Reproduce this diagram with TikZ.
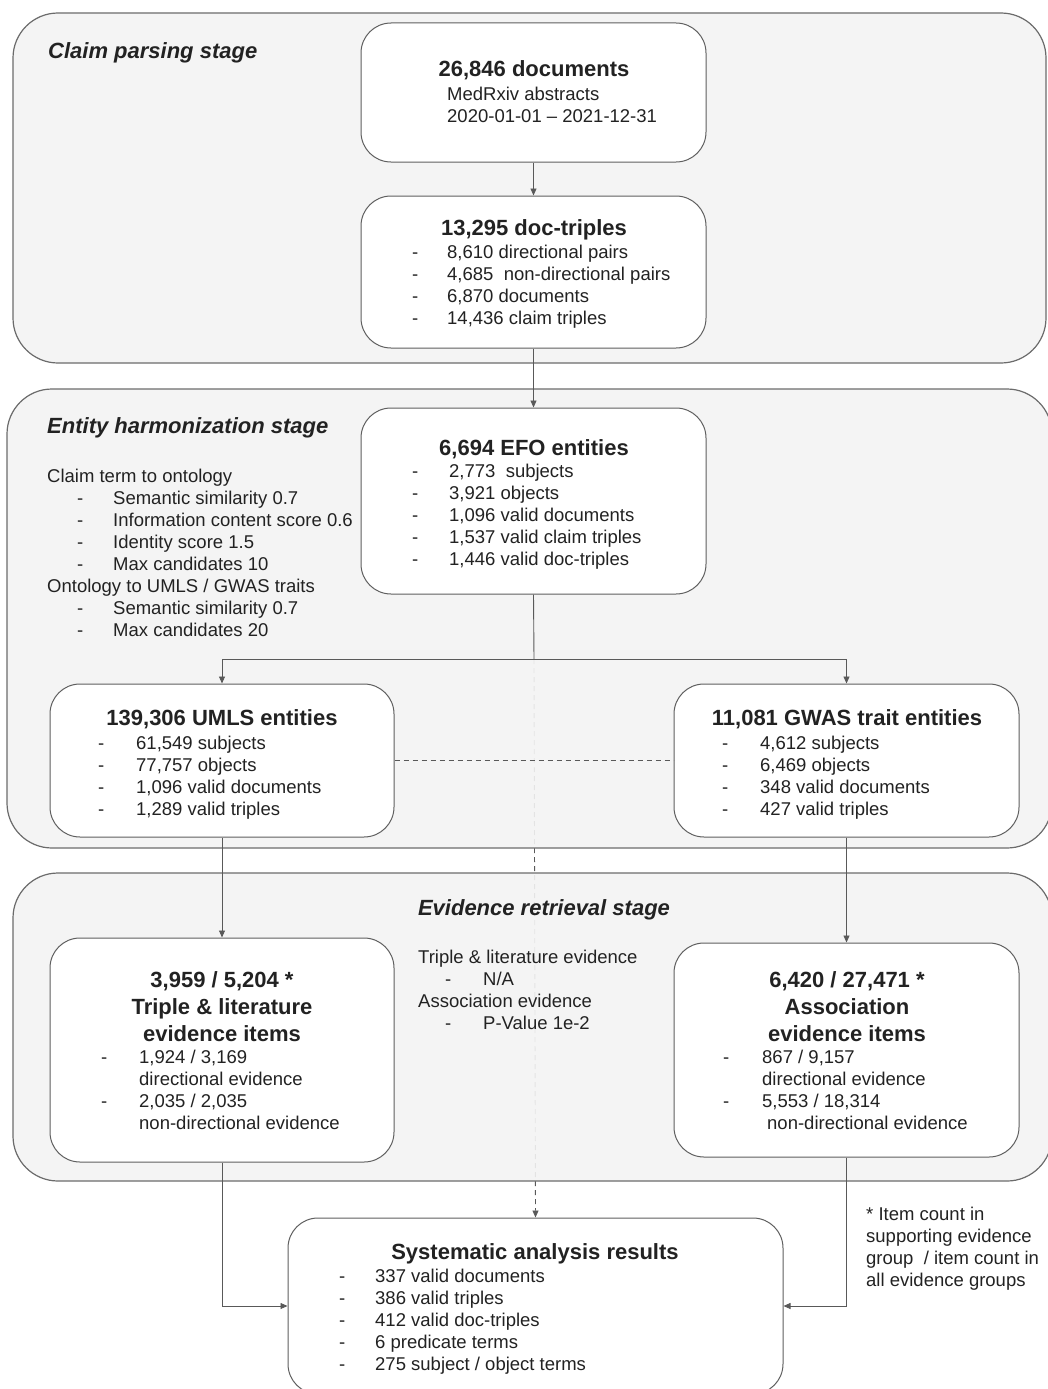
\documentclass[tikz,border=0pt]{standalone}
\usepackage{fontspec}
\setmainfont{Liberation Sans}
\usetikzlibrary{arrows.meta}
\definecolor{stagefill}{HTML}{F3F3F3}
\definecolor{stageline}{HTML}{6B6B6B}
\definecolor{boxline}{HTML}{5F5F5F}
\definecolor{ink}{HTML}{222222}
\definecolor{conncol}{HTML}{595959}
\newcommand\itm[2][37pt]{\makebox[#1][l]{-}#2}
\newcommand\rows[1]{\begin{tabular}[t]{@{}l@{}}#1\end{tabular}}
\newcommand\crows[1]{\begin{tabular}[t]{@{}c@{}}#1\end{tabular}}
\pgfdeclarelayer{back}
\pgfdeclarelayer{stages}
\pgfsetlayers{back,stages,main}
\begin{document}
\begin{tikzpicture}[x=1pt,y=-1pt,
  stage/.style={draw=stageline, line width=1.2pt, fill=stagefill, fill opacity=0.9, rounded corners=45pt},
  box/.style={draw=boxline, line width=1pt, fill=white, rounded corners=30pt, inner sep=0pt, minimum width=345pt},
  body/.style={font=\fontsize{18.5}{22}\selectfont, text=ink, inner sep=0pt, anchor=base west},
  ttl/.style={font=\fontsize{22}{27}\selectfont\bfseries, text=ink, inner sep=0pt, anchor=base},
  stt/.style={font=\fontsize{22}{25}\selectfont\bfseries\itshape, text=ink, inner sep=0pt},
  conn/.style={draw=conncol, line width=0.9pt},
  arr/.style={conn, -{Triangle[length=7pt,width=6pt]}},
  dsh/.style={conn, dash pattern=on 5pt off 4pt}
]
\useasboundingbox (0,0) rectangle (1047,1389);

% stage backgrounds
\begin{pgfonlayer}{stages}
\path[stage] (13,13) rectangle (1046,363);
\path[stage] (7,389) rectangle (1052,848);
\path[stage] (13,873) rectangle (1052,1181);
\end{pgfonlayer}

% stage titles
\node[stt, anchor=base west] (s1t) at (48,59) {Claim parsing stage};
\node[stt, anchor=base west] (s2t) at (47,433) {Entity harmonization stage};
\node[stt, anchor=base] (s3t) at (544,915) {Evidence retrieval stage};

% boxes
\node[box, minimum height=139pt] (docs) at (533.5,92.5) {};
\node[box, minimum height=152pt] (dtrip) at (533.5,272) {};
\node[box, minimum height=186pt] (efo) at (533.5,501) {};
\node[box, minimum width=344pt, minimum height=153pt] (umls) at (222,760.5) {};
\node[box, minimum height=153pt] (gwas) at (846.5,760.5) {};
\node[box, minimum width=344pt, minimum height=224pt] (tri) at (222,1050) {};
\node[box, minimum height=214pt] (assoc) at (846.5,1050) {};
\node[box, minimum width=495pt, minimum height=176pt] (res) at (535.5,1306) {};

% box 1
\node[ttl] (docsT) at (534,77) {26,846 documents};
\node[body] (docsL) at (447,100.7) {\rows{MedRxiv abstracts\\2020-01-01 – 2021-12-31}};
% box 2
\node[ttl] (dtripT) at (534,235) {13,295 doc-triples};
\node[body] (dtripL) at (412,258.5) {\rows{\itm[35pt]{8,610 directional pairs}\\\itm[35pt]{4,685 \ non-directional pairs}\\\itm[35pt]{6,870 documents}\\\itm[35pt]{14,436 claim triples}}};
% EFO
\node[ttl] (efoT) at (534,455) {6,694 EFO entities};
\node[body] (efoL) at (412,477) {\rows{\itm{2,773 \ subjects}\\\itm{3,921 objects}\\\itm{1,096 valid documents}\\\itm{1,537 valid claim triples}\\\itm{1,446 valid doc-triples}}};
% parameters
\node[body] (params) at (47,482) {\rows{Claim term to ontology\\\hspace*{30pt}\itm[36pt]{Semantic similarity 0.7}\\\hspace*{30pt}\itm[36pt]{Information content score 0.6}\\\hspace*{30pt}\itm[36pt]{Identity score 1.5}\\\hspace*{30pt}\itm[36pt]{Max candidates 10}\\Ontology to UMLS / GWAS traits\\\hspace*{30pt}\itm[36pt]{Semantic similarity 0.7}\\\hspace*{30pt}\itm[36pt]{Max candidates 20}}};
% UMLS
\node[ttl] (umlsT) at (222,725) {139,306 UMLS entities};
\node[body] (umlsL) at (98,749) {\rows{\itm[38pt]{61,549 subjects}\\\itm[38pt]{77,757 objects}\\\itm[38pt]{1,096 valid documents}\\\itm[38pt]{1,289 valid triples}}};
% GWAS
\node[ttl] (gwasT) at (847,725) {11,081 GWAS trait entities};
\node[body] (gwasL) at (722,749) {\rows{\itm[38pt]{4,612 subjects}\\\itm[38pt]{6,469 objects}\\\itm[38pt]{348 valid documents}\\\itm[38pt]{427 valid triples}}};
% Triple & literature
\node[ttl] (triT) at (222,987) {\crows{3,959 / 5,204 *\\Triple \& literature\\evidence items}};
\node[body] (triL) at (101,1063) {\rows{\itm[38pt]{1,924 / 3,169}\\\hspace*{38pt}directional evidence\\\itm[38pt]{2,035 / 2,035}\\\hspace*{38pt}non-directional evidence}};
% middle thresholds
\node[body] (thr) at (418,963.5) {\rows{Triple \& literature evidence\\\hspace*{27pt}\itm[38pt]{N/A}\\Association evidence\\\hspace*{27pt}\itm[38pt]{P-Value 1e-2}}};
% Association
\node[ttl] (assocT) at (847,987) {\crows{6,420 / 27,471 *\\Association\\evidence items}};
\node[body] (assocL) at (723,1063) {\rows{\itm[39pt]{867 / 9,157}\\\hspace*{39pt}directional evidence\\\itm[39pt]{5,553 / 18,314}\\\hspace*{44pt}non-directional evidence}};
% results
\node[ttl] (resT) at (535,1259) {Systematic analysis results};
\node[body] (resL) at (339,1282) {\rows{\itm[36pt]{337 valid documents}\\\itm[36pt]{386 valid triples}\\\itm[36pt]{412 valid doc-triples}\\\itm[36pt]{6 predicate terms}\\\itm[36pt]{275 subject / object terms}}};
% footnote
\node[body] (foot) at (866,1220) {\rows{* Item count in\\supporting evidence\\group \ / item count in\\all evidence groups}};

% connectors
\coordinate (split) at (534,659);
\draw[arr] (docs.south) -- (dtrip.north);
\draw[arr] (dtrip.south) -- (efo.north);
\draw[conn] (efo.south) -- (split);
\draw[arr] (split) -| (umls.north);
\draw[arr] (split) -| (gwas.north);
\draw[dsh] (umls.east) -- (gwas.west);
\draw[arr] (umls.south) -- (tri.north);
\draw[arr] (gwas.south) -- (assoc.north);
\draw[arr] (tri.south) |- (res.west);
\draw[arr] (assoc.south) |- (res.east);
\begin{pgfonlayer}{back}
\draw[dsh, -{Triangle[length=7pt,width=6pt]}] (split) -- (res.north);
\end{pgfonlayer}
\end{tikzpicture}
\end{document}
